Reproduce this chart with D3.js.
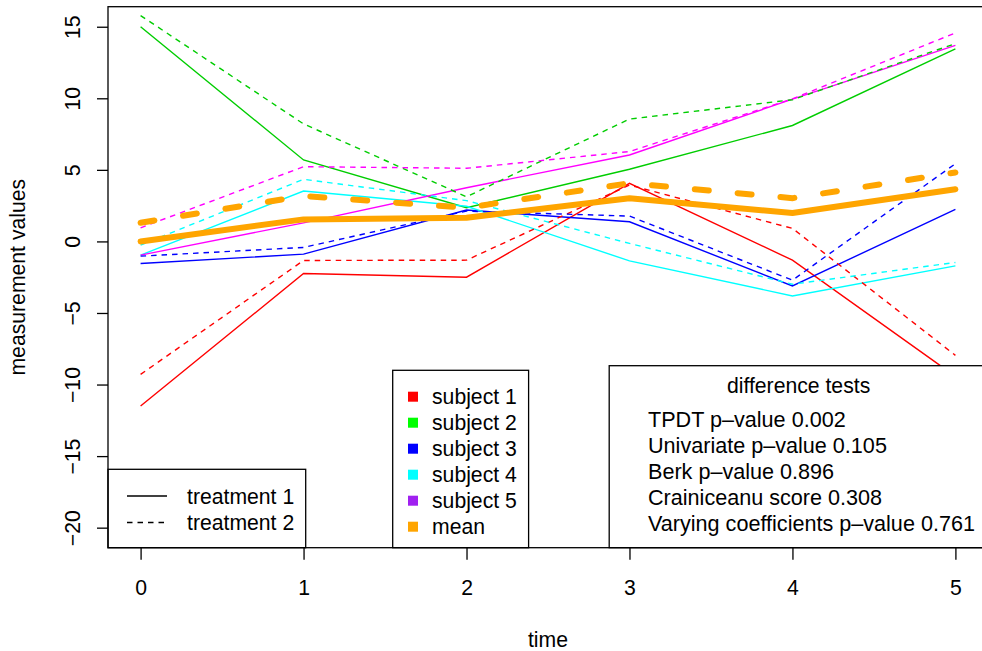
<!DOCTYPE html>
<html>
<head>
<meta charset="utf-8">
<script src="https://cdn.jsdelivr.net/npm/d3@7"></script>
<style>
  html, body { margin: 0; padding: 0; background: #fff; }
  svg { display: block; }
  text { font-family: "Liberation Sans", Arial, sans-serif; fill: #000; }
</style>
</head>
<body>
<svg id="chart" width="982" height="651"></svg>
<script>
// ---- data ----
const times = [0, 1, 2, 3, 4, 5];
const subjectNames = ["subject 1", "subject 2", "subject 3", "subject 4", "subject 5"];
const lineColors = ["#FF0000", "#00CD00", "#0000FF", "#00FFFF", "#FF00FF"];
const legendColors = ["#FF0000", "#00FF00", "#0000FF", "#00FFFF", "#A020F0", "#FFA500"];
const meanColor = "#FFA500";

const treatment1 = [
  [-11.5, -2.24, -2.5, 4.06, -1.31, -9.43],
  [15.0, 5.69, 2.35, 5.04, 8.1, 13.45],
  [-1.54, -0.89, 2.19, 1.37, -3.11, 2.24],
  [-0.96, 3.52, 2.46, -1.36, -3.81, -1.71],
  [-0.96, 1.3, 3.75, 6.04, 9.94, 13.7]
];
const treatment2 = [
  [-9.29, -1.33, -1.31, 3.94, 0.91, -7.96],
  [15.78, 8.21, 3.12, 8.55, 9.9, 13.82],
  [-1.03, -0.42, 2.12, 1.77, -2.71, 5.43],
  [-0.26, 4.34, 2.85, -0.14, -2.99, -1.47],
  [0.95, 5.22, 5.11, 6.28, 9.96, 14.57]
];
const mean1 = [0.0, 1.54, 1.65, 3.02, 1.98, 3.64];
const mean2 = [1.3, 3.18, 2.35, 4.07, 3.02, 4.82];

const xTicks = [0, 1, 2, 3, 4, 5];
const yTicks = [-20, -15, -10, -5, 0, 5, 10, 15];
const treatmentLabels = ["treatment 1", "treatment 2"];
const subjectLegendLabels = ["subject 1", "subject 2", "subject 3", "subject 4", "subject 5", "mean"];
const testsTitle = "difference tests";
const testsLines = [
  "TPDT p\u2013value 0.002",
  "Univariate p\u2013value 0.105",
  "Berk p\u2013value 0.896",
  "Crainiceanu score 0.308",
  "Varying coefficients p\u2013value 0.761"
];

// ---- layout ----
const FS = 21.2;
const FS_TESTS = 21.6;
const pLeft = 108, pRight = 988, pTop = 6.7, pBottom = 547.7;
const svg = d3.select("#chart");

const x = d3.scaleLinear().domain([-0.2, 5.2]).range([pLeft, pRight]);
const y = d3.scaleLinear().domain([-21.4, 16.4]).range([pBottom, pTop]);

const line = d3.line().x((d, i) => x(times[i])).y(d => y(d));

const plot = svg.append("g");

// subject lines
treatment1.forEach((vals, s) => {
  plot.append("path").attr("d", line(vals)).attr("fill", "none")
    .attr("stroke", lineColors[s]).attr("stroke-width", 1.4);
});
treatment2.forEach((vals, s) => {
  plot.append("path").attr("d", line(vals)).attr("fill", "none")
    .attr("stroke", lineColors[s]).attr("stroke-width", 1.4)
    .attr("stroke-dasharray", "5.5,5");
});
// mean lines
plot.append("path").attr("d", line(mean1)).attr("fill", "none")
  .attr("stroke", meanColor).attr("stroke-width", 6).attr("stroke-linejoin", "round")
  .attr("stroke-linecap", "round");
plot.append("path").attr("d", line(mean2)).attr("fill", "none")
  .attr("stroke", meanColor).attr("stroke-width", 6).attr("stroke-linecap", "round")
  .attr("stroke-dasharray", "14,29");

// axes
const xAxis = d3.axisBottom(x).tickValues(xTicks).tickSize(12).tickPadding(20)
  .tickFormat(d3.format("d"));
const gx = svg.append("g").attr("transform", `translate(0,${pBottom})`).call(xAxis);
gx.select(".domain").remove();
gx.selectAll("line").attr("stroke", "#000").attr("stroke-width", 1.3);
gx.selectAll("text").attr("font-size", FS).attr("dy", null).attr("y", 47.5)
  .attr("font-family", "Liberation Sans, Arial, sans-serif");

const yAxis = d3.axisLeft(y).tickValues(yTicks).tickSize(11)
  .tickFormat(d => d < 0 ? "\u2212" + Math.abs(d) : String(d));
const gy = svg.append("g").attr("transform", `translate(${pLeft},0)`).call(yAxis);
gy.select(".domain").remove();
gy.selectAll("line").attr("stroke", "#000").attr("stroke-width", 1.3);
gy.selectAll(".tick text")
  .attr("x", null).attr("dy", null)
  .attr("font-size", FS).attr("font-family", "Liberation Sans, Arial, sans-serif")
  .attr("text-anchor", "middle")
  .attr("transform", "translate(-28,0) rotate(-90)");

// axis titles
svg.append("text").attr("x", (pLeft + pRight) / 2).attr("y", 646.5)
  .attr("text-anchor", "middle").attr("font-size", FS).text("time");
svg.append("text").attr("transform", `translate(25,${(pTop + pBottom) / 2}) rotate(-90)`)
  .attr("text-anchor", "middle").attr("font-size", FS).text("measurement values");

// legend: treatments
const lt = svg.append("g");
lt.append("rect").attr("x", pLeft).attr("y", 469.3).attr("width", 305.7 - pLeft)
  .attr("height", pBottom - 469.3).attr("fill", "#fff").attr("stroke", "#000").attr("stroke-width", 1.3);
treatmentLabels.forEach((lab, i) => {
  const yy = 496 + i * 26.5;
  lt.append("line").attr("x1", 127).attr("x2", 167).attr("y1", yy).attr("y2", yy)
    .attr("stroke", "#000").attr("stroke-width", 1.3)
    .attr("stroke-dasharray", i === 1 ? "5.5,5" : null);
  lt.append("text").attr("x", 187).attr("y", yy).attr("dy", "0.36em")
    .attr("font-size", FS).text(lab);
});

// legend: subjects
const ls = svg.append("g");
ls.append("rect").attr("x", 392.7).attr("y", 370.3).attr("width", 528.6 - 392.7)
  .attr("height", pBottom - 370.3).attr("fill", "#fff").attr("stroke", "#000").attr("stroke-width", 1.3);
subjectLegendLabels.forEach((lab, i) => {
  const yy = 396.7 + i * 26;
  ls.append("rect").attr("x", 408).attr("y", yy - 5).attr("width", 10).attr("height", 10)
    .attr("fill", legendColors[i]);
  ls.append("text").attr("x", 432).attr("y", yy).attr("dy", "0.36em")
    .attr("font-size", FS).text(lab);
});

// legend: difference tests
const ld = svg.append("g");
ld.append("rect").attr("x", 609.2).attr("y", 365.7).attr("width", pRight - 609.2)
  .attr("height", pBottom - 365.7).attr("fill", "#fff").attr("stroke", "#000").attr("stroke-width", 1.3);
ld.append("text").attr("x", (609.2 + pRight) / 2).attr("y", 385).attr("dy", "0.36em")
  .attr("text-anchor", "middle").attr("font-size", FS).text(testsTitle);
testsLines.forEach((lab, i) => {
  ld.append("text").attr("x", 648).attr("y", 419 + i * 26).attr("dy", "0.36em")
    .attr("font-size", FS_TESTS).text(lab);
});

// plot box
svg.append("rect").attr("x", pLeft).attr("y", pTop).attr("width", pRight - pLeft)
  .attr("height", pBottom - pTop).attr("fill", "none").attr("stroke", "#000").attr("stroke-width", 1.3);
</script>
</body>
</html>
